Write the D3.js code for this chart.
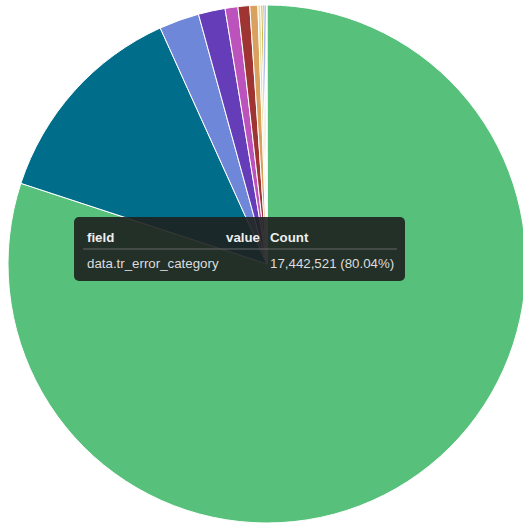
<!DOCTYPE html>
<html>
<head>
<meta charset="utf-8">
<script src="https://cdn.jsdelivr.net/npm/d3@7"></script>
<style>
html,body{margin:0;padding:0;background:#fff;}
svg{display:block;}
</style>
</head>
<body>
<svg id="chart" width="523" height="524"></svg>
<script>
const categories = ["cat1","cat2","cat3","cat4","cat5","cat6","cat7","cat8","cat9","cat10","cat11","cat12"];
const counts = [17442521, 2876000, 545000, 364000, 174000, 159000, 109000, 40000, 30000, 25000, 20000, 7734];
const colors = ["#57c17b","#006e8a","#6f87d8","#663db8","#bc52bc","#9e3533","#daa05d","#e8dca0","#c9b340","#4f6fd8","#8a6fd0","#f0e8e8"];
const tooltipField = "data.tr_error_category";
const tooltipIndex = 0;

const svg = d3.select("#chart");
const cx = 267, cy = 264, r = 259;
const total = d3.sum(counts);
const data = categories.map((c,i)=>({cat:c, value:counts[i], color:colors[i]}));
const pie = d3.pie().sort(null).value(d=>d.value);
const arc = d3.arc().innerRadius(0).outerRadius(r);
const g = svg.append("g").attr("transform",`translate(${cx},${cy})`);
g.selectAll("path").data(pie(data)).join("path")
  .attr("d",arc).attr("fill",d=>d.data.color)
  .attr("stroke","#fff").attr("stroke-width",1);

// tooltip
const tt = svg.append("g").attr("transform","translate(74,217)");
tt.append("rect").attr("width",331).attr("height",64).attr("rx",5)
  .attr("fill","rgba(30,32,31,0.9)");
const fnt = "'Liberation Sans', Arial, sans-serif";
const fs = 13.3;
tt.append("text").attr("x",13).attr("y",25).text("field")
  .attr("fill","#eee").attr("font-family",fnt).attr("font-size",fs).attr("font-weight","bold");
tt.append("text").attr("x",186).attr("y",25).attr("text-anchor","end").text("value")
  .attr("fill","#eee").attr("font-family",fnt).attr("font-size",fs).attr("font-weight","bold");
tt.append("text").attr("x",196).attr("y",25).text("Count")
  .attr("fill","#eee").attr("font-family",fnt).attr("font-size",fs).attr("font-weight","bold");
tt.append("line").attr("x1",9).attr("x2",323).attr("y1",32).attr("y2",32)
  .attr("stroke","#666").attr("stroke-width",1);
tt.append("text").attr("x",13).attr("y",51).text(tooltipField)
  .attr("fill","#ddd").attr("font-family",fnt).attr("font-size",fs);
const v = counts[tooltipIndex];
tt.append("text").attr("x",196).attr("y",51)
  .text(d3.format(",")(v) + " (" + (v/total*100).toFixed(2) + "%)")
  .attr("fill","#ddd").attr("font-family",fnt).attr("font-size",fs);
</script>
</body>
</html>
